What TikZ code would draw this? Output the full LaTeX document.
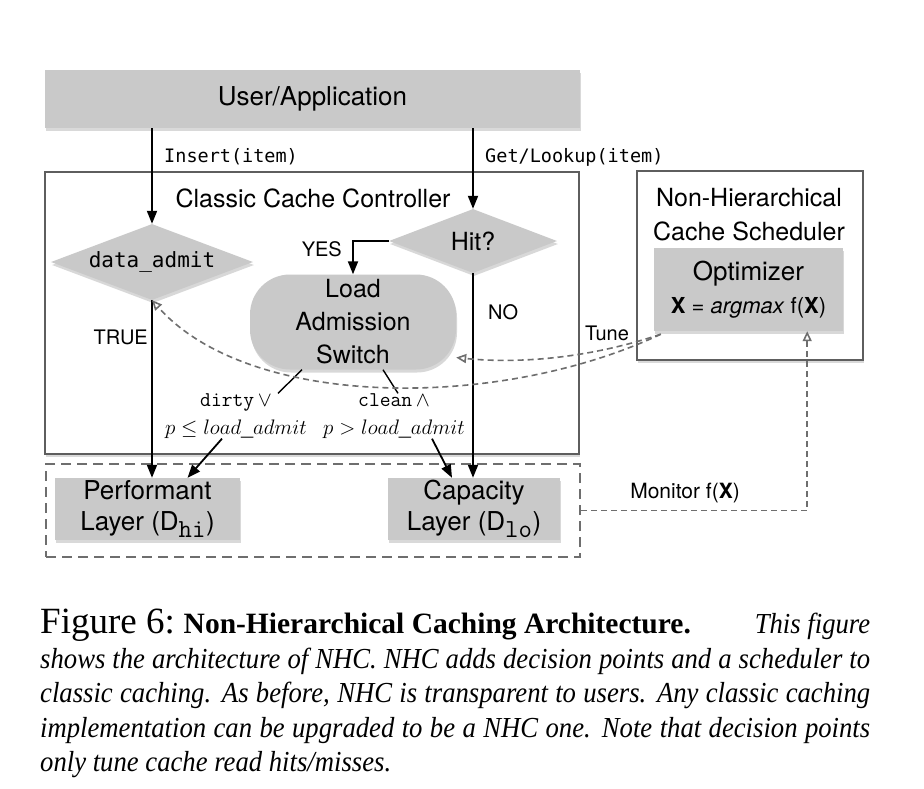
\RequirePackage{fix-cm}
\documentclass[tikz,border=0pt]{standalone}
\usepackage{fontspec}
\setmainfont{TeX Gyre Heros}
\newfontfamily\capfont[FakeStretch=0.92]{Liberation Serif}
\newfontfamily\labelfont{Liberation Serif}
\newfontfamily\codefont{DejaVu Sans Mono}
\usetikzlibrary{shapes.geometric,shadows,arrows.meta}
\definecolor{boxgray}{HTML}{C9C9C9}
\definecolor{linegray}{HTML}{5E5E5E}
\definecolor{dashgray}{HTML}{6E6E6E}
\tikzset{
  shadebox/.style={drop shadow={shadow xshift=1pt,shadow yshift=-3pt,opacity=0.3}},
  graybox/.style={fill=boxgray,shadebox,inner sep=0pt,align=center,font=\fontsize{26}{31}\selectfont},
  frame/.style={draw=linegray,line width=2.2pt,fill=white,shadebox,inner sep=0pt},
  decision/.style={diamond,fill=boxgray,shadebox,inner sep=0pt},
  flow/.style={line width=1.8pt,-{Triangle[length=13pt,width=10pt]}},
  plain/.style={line width=1.4pt},
  tune/.style={draw=dashgray,line width=1.6pt,dash pattern=on 6pt off 4pt,-{Triangle[open,length=10pt,width=9pt]}},
  lbl/.style={font=\fontsize{20}{24}\selectfont},
  code/.style={font=\fontsize{18.5}{22}\codefont},
  cond/.style={font=\fontsize{21}{26}\selectfont,align=center,inner sep=0pt}
}
\begin{document}
\begin{tikzpicture}[x=1pt,y=-1pt]
\useasboundingbox (0,0) rectangle (924,788);
\node[graybox,minimum width=535pt,minimum height=58pt] (user) at (312.5,99) {User/Application};
\node[frame,minimum width=534pt,minimum height=282pt] (ctrl) at (312,313) {};
\node[font=\fontsize{25}{30}\selectfont] (ctrltitle) at (313,198) {Classic Cache Controller};
\node[frame,minimum width=226pt,minimum height=189pt] (sched) at (750,265.5) {};
\node[font=\fontsize{25}{34}\selectfont,align=center] (schedtitle) at (749,215) {Non-Hierarchical\\Cache Scheduler};
\node[graybox,minimum width=189pt,minimum height=83pt,font=\fontsize{26}{33}\selectfont] (opt) at (748.5,289.5) {Optimizer\\{\fontsize{22}{26}\selectfont\textbf{X} = \textit{argmax} f(\textbf{X})}};
\node[decision,minimum width=202pt,minimum height=76pt,aspect=2.66,font=\fontsize{21}{24}\codefont] (da) at (152,262) {data\_admit};
\node[decision,minimum width=168pt,minimum height=64pt,aspect=2.63,font=\fontsize{25}{30}\selectfont] (hit) at (473,241) {Hit?};
\node[graybox,rounded corners=40pt,minimum width=206pt,minimum height=95pt,font=\fontsize{25}{33}\selectfont] (las) at (353,322) {Load\\Admission\\Switch};
\node[draw=dashgray,line width=2pt,dash pattern=on 10pt off 6pt,minimum width=534pt,minimum height=93pt] (lower) at (313,510.5) {};
\node[graybox,minimum width=185pt,minimum height=62pt] (perf) at (147.5,509) {Performant\\Layer (D$_{\texttt{hi}}$)};
\node[graybox,minimum width=172pt,minimum height=62pt] (cap) at (474,509) {Capacity\\Layer (D$_{\texttt{lo}}$)};
\node[cond] (dirty) at (236,416) {\texttt{dirty}\,$\vee$\\[2pt]$p\le load\_admit$};
\node[cond] (clean) at (394,416) {\texttt{clean}\,$\wedge$\\[2pt]$p>load\_admit$};
\draw[flow] (da.north |- user.south) -- (da.north) node[code,pos=0.3,right,xshift=8pt] (insertlbl) {Insert(item)};
\draw[flow] (hit.north |- user.south) -- (hit.north) node[code,pos=0.36,right,xshift=8pt] (getlbl) {Get/Lookup(item)};
\draw[flow] (hit.west) -| (las.north) node[lbl,pos=0.5,anchor=east,xshift=-7pt,yshift=-8pt] (yeslbl) {YES};
\draw[flow] (hit.south) -- (hit.south |- cap.north) node[lbl,pos=0.19,right,xshift=11pt] (nolbl) {NO};
\draw[flow] (da.south) -- (da.south |- perf.north) node[lbl,pos=0.21,left] (truelbl) {TRUE};
\draw[plain] ([xshift=-51pt]las.south) -- ([xshift=42pt]dirty.north);
\draw[flow] ([xshift=-14pt]dirty.south) -- ([xshift=40pt]perf.north);
\draw[plain] ([xshift=30pt]las.south) -- ([xshift=4pt]clean.north);
\draw[flow] ([xshift=38pt]clean.south) -- ([xshift=-22pt]cap.north);
\draw[tune] ([xshift=7pt,yshift=-3pt]opt.south west) .. controls (590,358) and (520,364) .. (las.-19);
\draw[tune] ([xshift=7pt,yshift=-3pt]opt.south west) .. controls (500,410) and (250,410) .. (da.south);
\node[lbl] (tunelbl) at (607,333) {Tune};
\draw[tune] (lower.east) -| ([xshift=-36pt]opt.south east) node[lbl,font=\fontsize{21}{24}\selectfont,pos=0.23,above,yshift=3pt] (monlbl) {Monitor f(\textbf{X})};
\node[anchor=north west,inner sep=0pt,text width=830pt,align=justify,font=\fontsize{29}{34.5}\capfont] (caption) at (40,609) {{\fontsize{37}{34.5}\labelfont Figure 6:} {\fontsize{29.5}{34.5}\labelfont\bfseries Non-Hierarchical Caching Architecture.}\hfill\textit{This figure\linebreak shows the architecture of NHC. NHC adds decision points and a scheduler to\linebreak classic caching. As before, NHC is transparent to users. Any classic caching\linebreak implementation can be upgraded to be a NHC one. Note that decision points\linebreak only tune cache read hits/misses.}};
\end{tikzpicture}
\end{document}
